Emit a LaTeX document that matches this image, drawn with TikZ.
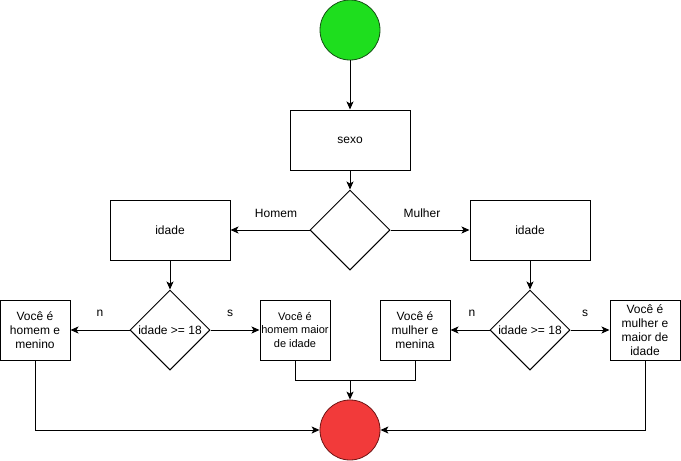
\documentclass[tikz,border=0pt]{standalone}
\usepackage{fontspec}
\setmainfont{Liberation Sans}
\usetikzlibrary{arrows.meta,shapes.geometric}
\definecolor{startgreen}{RGB}{30,222,30}
\definecolor{endred}{RGB}{242,58,58}
\definecolor{endredline}{RGB}{110,20,20}
\definecolor{startgreenline}{RGB}{20,80,20}
\tikzset{
  box/.style={draw=black, line width=1pt, minimum width=#1, inner sep=0pt, align=center, font=\fontsize{12}{14}\selectfont},
  box/.default=120pt,
  dec/.style={draw=black, line width=1pt, diamond, minimum width=80pt, minimum height=80pt, inner sep=0pt, font=\fontsize{12}{14}\selectfont},
  lbl/.style={font=\fontsize{12}{14}\selectfont, inner sep=0pt},
  conn/.style={draw=black, line width=1pt, -{Stealth[length=8pt,width=7pt,inset=2pt]}},
}
\begin{document}
\begin{tikzpicture}[x=1pt,y=-1pt]
\useasboundingbox (0,0) rectangle (681,461);
\node[circle, draw=startgreenline, fill=startgreen, line width=0.8pt, minimum size=60pt, inner sep=0pt] (start) at (350,30) {};
\node[box=120pt, minimum height=60pt] (sexo) at (350,140) {sexo};
\node[dec] (d0) at (350,230) {};
\node[box=120pt, minimum height=60pt] (idL) at (170,230) {idade};
\node[box=120pt, minimum height=60pt] (idR) at (530,230) {idade};
\node[dec] (dL) at (170,330) {idade >= 18};
\node[dec] (dR) at (530,330) {idade >= 18};
\node[box=70pt, minimum height=60pt] (hm) at (35,330) {Você é\\homem e\\menino};
\node[box=70pt, minimum height=60pt, font=\fontsize{11}{14}\selectfont] (hM) at (295,330) {Você é\\homem maior\\de idade};
\node[box=70pt, minimum height=60pt] (mm) at (415,330) {Você é\\mulher e\\menina};
\node[box=70pt, minimum height=60pt] (mM) at (645,330) {Você é\\mulher e\\maior de\\idade};
\node[circle, draw=endredline, fill=endred, line width=0.8pt, minimum size=60pt, inner sep=0pt] (end) at (350,430) {};
\node[lbl] (lh) at (276,213) {Homem};
\node[lbl] (lm) at (422,213) {Mulher};
\node[lbl] (n1) at (100,313) {n};
\node[lbl] (s1) at (230,313) {s};
\node[lbl] (n2) at (472,313) {n};
\node[lbl] (s2) at (585,313) {s};
\draw[conn] (start) -- (sexo);
\draw[conn] (sexo) -- (d0);
\draw[conn] (d0.west) -- (idL.east);
\draw[conn] (d0.east) -- (idR.west);
\draw[conn] (idL) -- (dL);
\draw[conn] (idR) -- (dR);
\draw[conn] (dL.west) -- (hm.east);
\draw[conn] (dL.east) -- (hM.west);
\draw[conn] (dR.west) -- (mm.east);
\draw[conn] (dR.east) -- (mM.west);
\coordinate (jL) at (295,380);
\coordinate (jR) at (415,380);
\draw[conn] (hm.south) |- (end.west);
\draw[conn] (mM.south) |- (end.east);
\draw[line width=1pt] (hM.south) -- (jL) -- (jR) -- (mm.south);
\draw[conn] (end.north |- jL) -- (end.north);
\end{tikzpicture}
\end{document}
